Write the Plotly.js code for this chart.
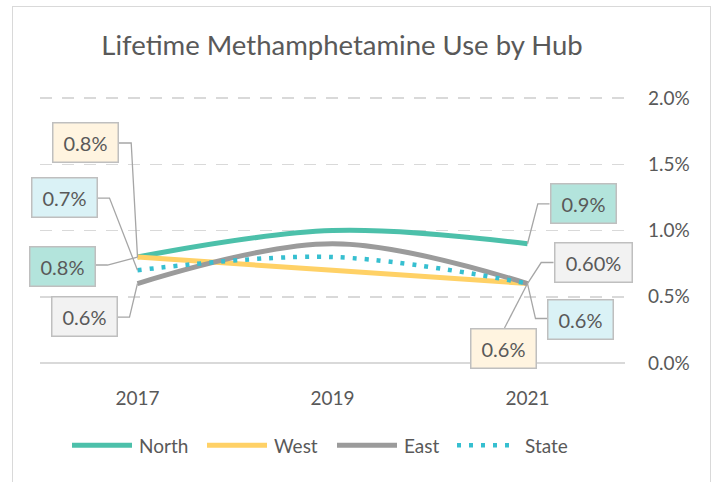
<!DOCTYPE html>
<html><head><meta charset="utf-8">
<script src="https://cdn.plot.ly/plotly-3.0.1.min.js"></script>
<style>
html,body{margin:0;padding:0;background:#fff;overflow:hidden}
#chart{position:absolute;left:0;top:0;width:715px;height:482px}
#frame{position:absolute;left:12px;top:6px;width:697px;height:490px;border:1.5px solid #D9D9D9;pointer-events:none}
</style>
</head><body><div id="chart"></div><div id="frame"></div>
<script>
// ---- data ----
const years = ['2017', '2019', '2021'];
const seriesNames = ['North', 'West', 'East', 'State'];
const north = [0.008, 0.010, 0.009];
const west = [0.008, 0.007, 0.006];
const east = [0.006, 0.009, 0.006];
const state = [0.007, 0.008, 0.006];
const startLabels = ['0.8%', '0.8%', '0.6%', '0.7%'];   // North, West, East, State @2017
const endLabels = ['0.9%', '0.6%', '0.60%', '0.6%'];    // North, West, East, State @2021
const yTickVals = [0, 0.005, 0.010, 0.015, 0.020];
const yTickText = ['0.0%', '0.5%', '1.0%', '1.5%', '2.0%'];
const chartTitle = 'Lifetime Methamphetamine Use by Hub';

// ---- styles ----
const values = [north, west, east, state];
const colors = ['#4CC0AA', '#FFD166', '#9B9B9B', '#36BFD0'];
const dashes = ['solid', 'solid', 'solid', '4px,8px'];
const widths = [5, 5, 5, 4.5];
const boxFill = ['#B3E4DC', '#FFF4E0', '#F2F2F2', '#DAF2F6'];
const FONT = 'Lato, "Open Sans", sans-serif';
const TXT = '#595959';

// label placement (pixels relative to point; y positive = up)
const startBox = [[-75.5, -9], [-52.5, 115], [-53.5, -33], [-73.3, 72.7]];
const startLead = [
  [[0,0],[-30,-8],[-42,-8]],
  [[0,0],[-6.3,114],[-19,114]],
  [[0,0],[-8,-33.6],[-20,-33.6]],
  [[0,0],[-28,72.2],[-40,72.2]]
];
const endBox = [[55.7, 40], [-24, -65], [65.7, 21], [53, -36]];
const endLead = [
  [[0,0],[10.3,40],[22,40]],
  [[0,0],[-23,-44.5]],
  [[0,0],[13.7,21],[26,21]],
  [[0,0],[8,-35],[19.7,-35]]
];

const traces = seriesNames.map((n, i) => ({
  type: 'scatter', mode: 'lines', name: n, x: years, y: values[i],
  line: {color: colors[i], width: widths[i], dash: dashes[i], shape: 'spline', smoothing: 1},
  hoverinfo: 'skip', showlegend: false
}));

const annotations = [];
const shapes = [];
function pathStr(pts) {
  return pts.map((p, k) => (k ? 'L' : 'M') + p[0] + ',' + p[1]).join(' ');
}
function addLabel(xi, si, text, box, lead) {
  // category axis: positions given as category index
  shapes.push({
    type: 'path', xref: 'x', yref: 'y', xsizemode: 'pixel', ysizemode: 'pixel',
    xanchor: xi, yanchor: values[si][xi], path: pathStr(lead),
    line: {color: '#A6A6A6', width: 1.3}, layer: 'above'
  });
  annotations.push({
    x: xi, y: values[si][xi], xref: 'x', yref: 'y', text: text, showarrow: false,
    xshift: box[0], yshift: box[1], xanchor: 'center', yanchor: 'middle',
    width: text.length > 4 ? 72 : 60, height: 34, borderpad: 2,
    bgcolor: boxFill[si], bordercolor: '#BFBFBF', borderwidth: 1.5,
    font: {family: FONT, size: 20, color: TXT}
  });
}
for (let s = 0; s < 4; s++) addLabel(0, s, startLabels[s], startBox[s], startLead[s]);
for (let s = 0; s < 4; s++) addLabel(2, s, endLabels[s], endBox[s], endLead[s]);

// custom legend
const L = 40, W = 585, T = 98, H = 265;
const px = v => (v - L) / W;
const py = v => (T + H - v) / H;
const legLineStart = [72, 207, 337, 457];
const legLen = 60;
const legTextStart = [137, 272, 402, 523];
const legY = 445;
seriesNames.forEach((n, i) => {
  shapes.push({
    type: 'line', xref: 'paper', yref: 'paper',
    x0: px(legLineStart[i]), x1: px(legLineStart[i] + legLen - (i === 3 ? 3 : 0)),
    y0: py(legY), y1: py(legY),
    line: {color: colors[i], width: widths[i], dash: dashes[i]}
  });
  annotations.push({
    xref: 'paper', yref: 'paper', x: px(legTextStart[i]), y: py(legY),
    xanchor: 'left', yanchor: 'middle', showarrow: false, text: n,
    font: {family: FONT, size: 19, color: TXT}
  });
});

const layout = {
  width: 715, height: 482,
  margin: {l: L, r: 715 - L - W, t: T - 1, b: 482 - T - H},
  paper_bgcolor: 'rgba(0,0,0,0)', plot_bgcolor: 'rgba(0,0,0,0)',
  showlegend: false,
  title: {
    text: chartTitle, xref: 'container', yref: 'container',
    x: 342 / 715, y: 1 - 45 / 482, xanchor: 'center', yanchor: 'middle',
    font: {family: FONT, size: 27.5, color: TXT}
  },
  xaxis: {
    type: 'category', range: [-0.5, 2.5], showgrid: false, zeroline: false,
    showline: false, ticks: '', ticklabelstandoff: 22,
    tickfont: {family: FONT, size: 19, color: TXT}, fixedrange: true
  },
  yaxis: {
    side: 'right', range: [0, 0.02008], tickvals: yTickVals, ticktext: yTickText,
    showgrid: true, gridcolor: '#D9D9D9', gridwidth: 1.5, griddash: '12px,10px',
    zeroline: true, zerolinecolor: '#D9D9D9', zerolinewidth: 1.5,
    showline: false, ticks: '', ticklabelstandoff: 22,
    tickfont: {family: FONT, size: 19, color: TXT}, fixedrange: true
  },
  annotations: annotations, shapes: shapes
};

Plotly.newPlot('chart', traces, layout, {displayModeBar: false, staticPlot: true});
</script>
</body></html>
